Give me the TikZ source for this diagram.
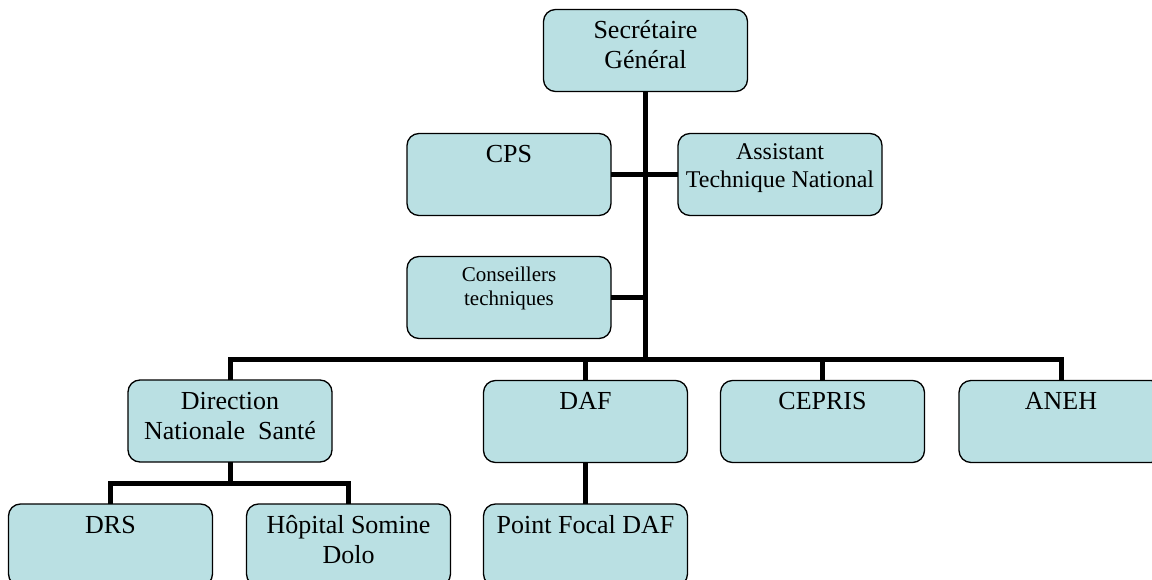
\documentclass[tikz,border=0pt]{standalone}
\usepackage{fontspec}
\setmainfont{Liberation Serif}
\definecolor{boxfill}{RGB}{186,224,227}
% box contents: fixed-size, top-aligned, centred text
\newcommand{\bigtext}[1]{\parbox[t][82pt][t]{204pt}{\centering\fontsize{26}{30}\selectfont\rule{0pt}{29pt}#1}}
\newcommand{\midtext}[1]{\parbox[t][82pt][t]{204pt}{\centering\fontsize{24}{28.5}\selectfont\rule{0pt}{26pt}#1}}
\newcommand{\smalltext}[1]{\parbox[t][82pt][t]{204pt}{\centering\fontsize{21}{24}\selectfont\rule{0pt}{25pt}#1}}
\tikzset{
  orgbox/.style={draw=black, line width=1.3pt, rounded corners=12pt, fill=boxfill,
    minimum width=204pt, minimum height=82pt, inner sep=0pt, outer sep=0pt},
  link/.style={draw=black, line width=5pt}
}
\begin{document}
\begin{tikzpicture}[x=1pt, y=-1pt]
\useasboundingbox (0,0) rectangle (1152,580);
% levels of the horizontal connectors
\coordinate (bus) at (0,359);
\coordinate (sub) at (0,483);

% boxes
\node[orgbox] (sg)     at (645.5,50.5) {\bigtext{Secrétaire\\Général}};
\node[orgbox] (cps)    at (509,174.5)  {\bigtext{CPS}};
\node[orgbox] (atn)    at (780,174.5)  {\midtext{Assistant\\Technique National}};
\node[orgbox] (cons)   at (509,297.5)  {\smalltext{Conseillers\\techniques}};
\node[orgbox] (dns)    at (230,421)    {\bigtext{Direction\\Nationale~~Santé}};
\node[orgbox] (daf)    at (585.5,421.5){\bigtext{DAF}};
\node[orgbox] (cepris) at (822.5,421.5){\bigtext{CEPRIS}};
\node[orgbox] (aneh)   at (1061,421.5) {\bigtext{ANEH}};
\node[orgbox] (drs)    at (110.5,545)  {\bigtext{DRS}};
\node[orgbox] (hop)    at (348.5,545)  {\bigtext{Hôpital Somine\\Dolo}};
\node[orgbox] (pf)     at (585.5,545)  {\bigtext{Point Focal DAF}};

% connectors
\path[link] (sg.south) -- (sg.south |- bus);
\path[link] (cps.east) -- (atn.west);
\path[link] (cons.east) -- (cons.east -| sg.south);
\path[link] (dns.north) |- (aneh.north |- bus) -- (aneh.north);
\path[link] (daf.north) -- (daf.north |- bus);
\path[link] (cepris.north) -- (cepris.north |- bus);
\path[link] (dns.south) -- (dns.south |- sub);
\path[link] (drs.north) |- (hop.north |- sub) -- (hop.north);
\path[link] (daf.south) -- (pf.north);
\end{tikzpicture}
\end{document}
